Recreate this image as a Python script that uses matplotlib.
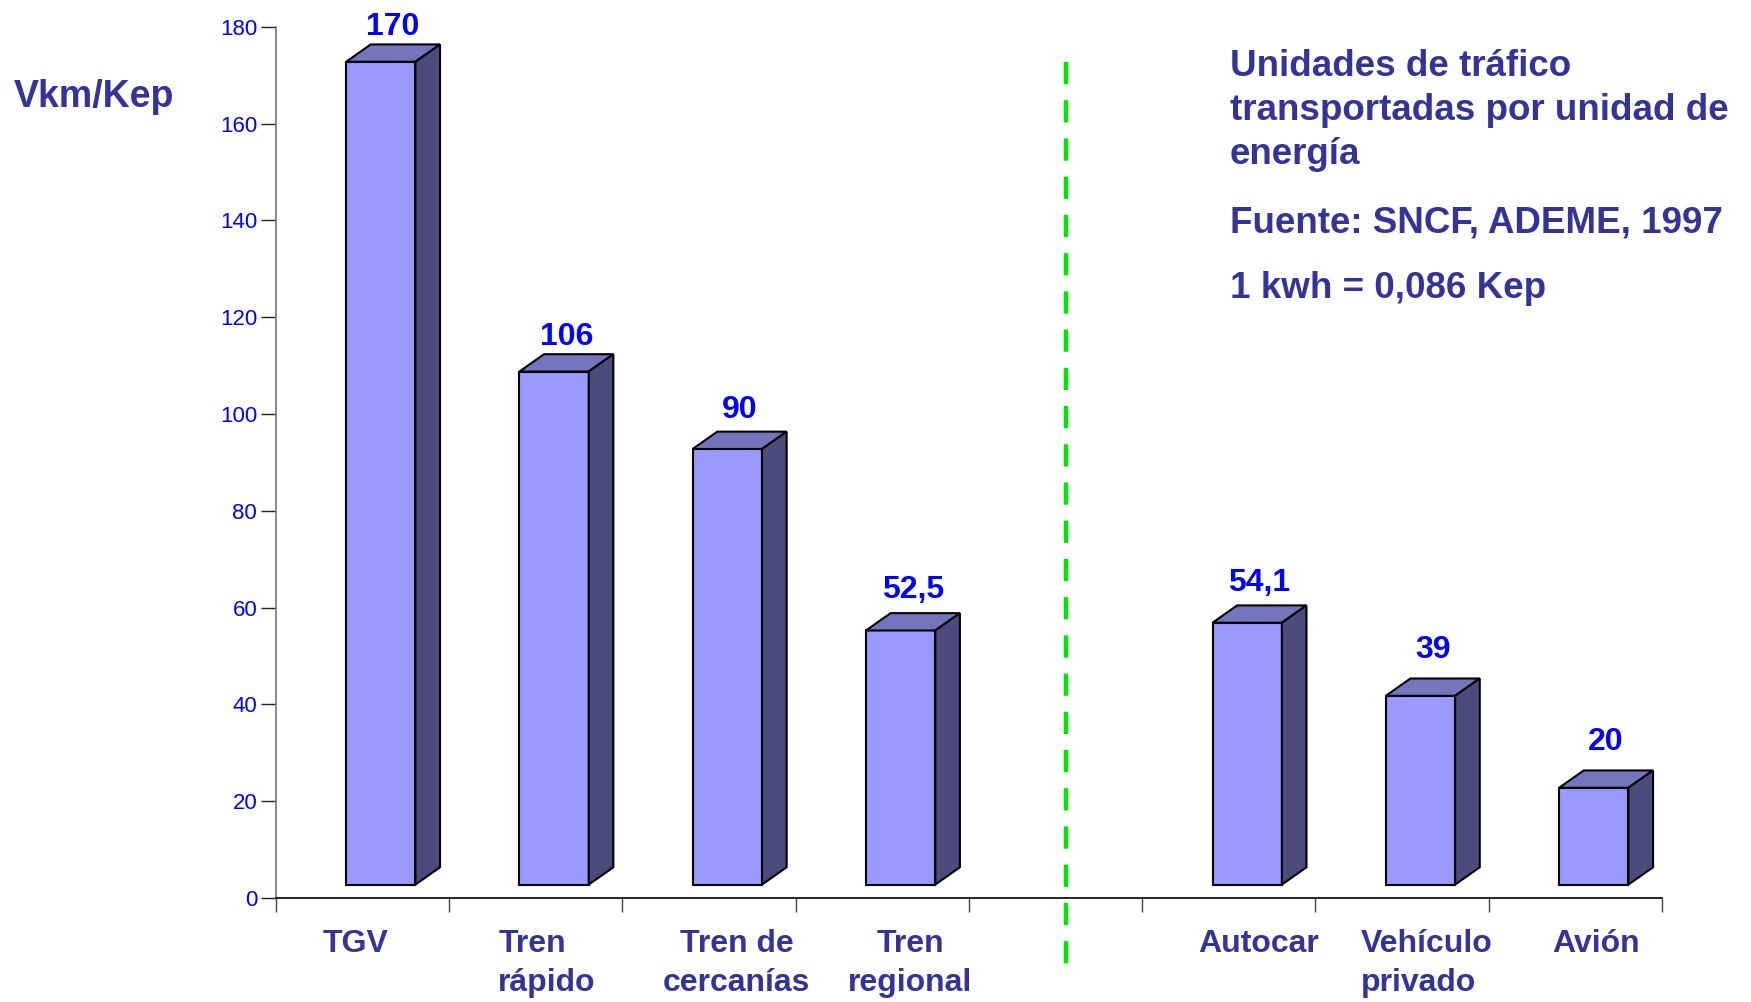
import matplotlib
matplotlib.use("Agg")
import matplotlib.pyplot as plt
from matplotlib.patches import Polygon
from matplotlib.ticker import MultipleLocator, FixedLocator, NullFormatter

# ==== DATOS ====
RAIL_LABELS = ["TGV", "Tren\nrápido", "Tren de\ncercanías", "Tren\nregional"]
RAIL_VALUES = [170, 106, 90, 52.5]
ROAD_LABELS = ["Autocar", "Vehículo\nprivado", "Avión"]
ROAD_VALUES = [54.1, 39, 20]

Y_LABEL = "Vkm/Kep"
NOTE_LINES = ["Unidades de tráfico", "transportadas por unidad de", "energía"]
SOURCE = "Fuente: SNCF, ADEME, 1997"
CONVERSION = "1 kwh = 0,086 Kep"

# ==== ESTILO ====
FONT = "Liberation Sans"
NAVY = "#333399"
BLUE = "#0000FF"
FRONT = "#9999FF"
TOP = "#7575BD"
SIDE = "#4B4B7D"
GREEN = "#00E600"

FLOOR = 2.77     # desplazamiento del suelo 3D (unidades del eje Y)
BAR_W = 0.40
BAR_X = -0.094   # borde izquierdo de la cara frontal respecto a la categoría
DX, DY = 0.142, 3.58
GAP = 1.9

# ajustes finos de las etiquetas
VALUE_LIFT = [0, 0, 3.2, 4, 4, 8, 8]          # puntos extra sobre cada barra
LABEL_DX = [-0.04, 0.065, 0.16, 0.16, 0.17, 0.14, 0.12]
LABEL_ALIGN = ["center", "left", "center", "center", "center", "left", "center"]

plt.rcParams["font.family"] = FONT

fig = plt.figure(figsize=(17.51, 10.02), dpi=100)
ax = fig.add_axes([0.1575, 0.1038, 0.9492 - 0.1575, 0.9733 - 0.1038])

# posiciones: 4 trenes, hueco, 3 carretera/avión
positions = list(range(len(RAIL_VALUES))) + \
    [len(RAIL_VALUES) + 1 + i for i in range(len(ROAD_VALUES))]
values = RAIL_VALUES + ROAD_VALUES
labels = RAIL_LABELS + ROAD_LABELS

for p, v, lift in zip(positions, values, VALUE_LIFT):
    x0 = p + BAR_X
    x1 = x0 + BAR_W
    y0 = FLOOR
    y1 = v + FLOOR
    front = Polygon([(x0, y0), (x1, y0), (x1, y1), (x0, y1)], closed=True,
                    facecolor=FRONT, edgecolor="black", linewidth=1.5, zorder=3)
    top = Polygon([(x0, y1), (x1, y1), (x1 + DX, y1 + DY), (x0 + DX, y1 + DY)],
                  closed=True, facecolor=TOP, edgecolor="black", linewidth=1.5,
                  zorder=3, clip_on=False)
    side = Polygon([(x1, y0), (x1 + DX, y0 + DY), (x1 + DX, y1 + DY), (x1, y1)],
                   closed=True, facecolor=SIDE, edgecolor="black", linewidth=1.5,
                   zorder=3, clip_on=False)
    for patch in (front, top, side):
        ax.add_patch(patch)
    txt = f"{v:g}".replace(".", ",")
    ax.annotate(txt, ((x0 + x1 + DX) / 2, y1 + DY + GAP),
                xytext=(0, lift), textcoords="offset points",
                ha="center", va="baseline", fontsize=23, fontweight="bold",
                color=BLUE, annotation_clip=False)

# etiquetas de categoría
xtr = ax.get_xaxis_transform()
for p, lab, dx, al in zip(positions, labels, LABEL_DX, LABEL_ALIGN):
    ax.text(p + dx, -0.036, lab, transform=xtr, ha="center", va="top",
            multialignment=al, fontsize=23, fontweight="bold", color=NAVY,
            linespacing=1.38)

# separación tren / resto (dibujada de arriba abajo para que empiece con trazo)
sep_x = len(RAIL_VALUES) + 0.06
ax.plot([sep_x, sep_x], [172.7, -16.7], color=GREEN, linewidth=3.2,
        linestyle=(0, (5, 3.6)), clip_on=False, zorder=4)

# ejes
n_slots = len(RAIL_VALUES) + 1 + len(ROAD_VALUES)
ax.set_xlim(-0.5, n_slots - 0.5)
ax.set_ylim(0, 180)
ax.xaxis.set_major_locator(FixedLocator([i - 0.5 for i in range(n_slots + 1)]))
ax.xaxis.set_major_formatter(NullFormatter())
ax.yaxis.set_major_locator(MultipleLocator(20))
ax.tick_params(axis="x", direction="out", length=10, width=1, color="#444444")
ax.tick_params(axis="y", direction="out", length=11, width=1, color="#222222",
               labelsize=16, labelcolor=BLUE, pad=2.4)
for s in ("top", "right"):
    ax.spines[s].set_visible(False)
ax.spines["left"].set_color("#777777")
ax.spines["left"].set_linewidth(1.2)
ax.spines["bottom"].set_color("black")
ax.spines["bottom"].set_linewidth(1.2)

# textos
H = 1002.0
fig.text(14 / 1751, 1 - 107 / H, Y_LABEL, ha="left", va="baseline",
         fontsize=27, fontweight="bold", color=NAVY)
for line, base in zip(NOTE_LINES, [76, 120, 164]):
    fig.text(1230 / 1751, 1 - base / H, line, ha="left", va="baseline",
             fontsize=26.5, fontweight="bold", color=NAVY)
fig.text(1230 / 1751, 1 - 232 / H, SOURCE, ha="left", va="baseline",
         fontsize=26.5, fontweight="bold", color=NAVY)
fig.text(1230 / 1751, 1 - 298 / H, CONVERSION, ha="left", va="baseline",
         fontsize=26.5, fontweight="bold", color=NAVY)

fig.savefig("out.png", dpi=100)
